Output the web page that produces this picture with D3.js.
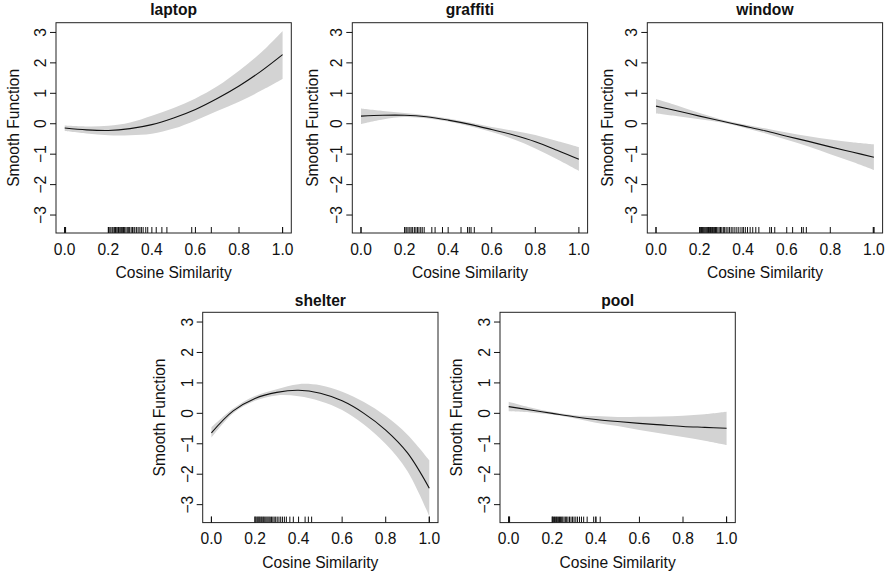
<!DOCTYPE html>
<html>
<head>
<meta charset="utf-8">
<script src="https://cdn.jsdelivr.net/npm/d3@7"></script>
<style>
  body { margin: 0; background: #fff; }
  svg text { font-family: "Liberation Sans", Arial, Helvetica, sans-serif; fill: #111; }
</style>
</head>
<body>
<div id="chart"></div>
<script>
const xGrid = [0, 0.1, 0.2, 0.3, 0.4, 0.5, 0.6, 0.7, 0.8, 0.9, 1.0];
const xTicks = [0, 0.2, 0.4, 0.6, 0.8, 1.0];
const yTicks = [-3, -2, -1, 0, 1, 2, 3];

const laptopFit = [-0.14, -0.2, -0.22, -0.16, -0.03, 0.19, 0.47, 0.83, 1.24, 1.72, 2.27];
const laptopLo  = [-0.24, -0.32, -0.38, -0.38, -0.33, -0.16, 0.11, 0.42, 0.72, 1.08, 1.47];
const laptopHi  = [-0.06, -0.09, -0.07, 0.04, 0.26, 0.52, 0.83, 1.23, 1.74, 2.33, 3.05];
const laptopRug = [0, 0.002, 0.004, 0.201, 0.207, 0.212, 0.218, 0.222, 0.228, 0.233, 0.236, 0.241,
  0.247, 0.25, 0.255, 0.26, 0.266, 0.27, 0.275, 0.281, 0.287, 0.292, 0.298, 0.305, 0.311, 0.318,
  0.322, 0.33, 0.337, 0.345, 0.352, 0.36, 0.372, 0.381, 0.42, 0.446, 0.469, 0.583, 0.673, 1.0];

const graffitiFit = [0.25, 0.28, 0.28, 0.23, 0.12, -0.02, -0.19, -0.37, -0.59, -0.87, -1.17];
const graffitiLo  = [-0.01, 0.14, 0.22, 0.18, 0.07, -0.08, -0.27, -0.51, -0.81, -1.17, -1.55];
const graffitiHi  = [0.5, 0.42, 0.35, 0.28, 0.17, 0.04, -0.11, -0.23, -0.37, -0.57, -0.77];
const graffitiRug = [0, 0.202, 0.21, 0.216, 0.224, 0.23, 0.237, 0.245, 0.252, 0.259, 0.266,
  0.274, 0.281, 0.29, 0.325, 0.34, 0.374, 0.459, 0.489, 0.497, 0.505, 0.52];

const windowFit = [0.58, 0.42, 0.25, 0.09, -0.07, -0.23, -0.41, -0.58, -0.76, -0.93, -1.1];
const windowLo  = [0.34, 0.25, 0.15, 0.04, -0.12, -0.31, -0.53, -0.75, -1.0, -1.25, -1.52];
const windowHi  = [0.81, 0.59, 0.35, 0.14, -0.02, -0.15, -0.29, -0.41, -0.52, -0.61, -0.68];
const windowRug = [0, 0.201, 0.205, 0.209, 0.213, 0.217, 0.221, 0.225, 0.229, 0.233, 0.237, 0.241,
  0.245, 0.25, 0.254, 0.259, 0.263, 0.268, 0.273, 0.278, 0.284, 0.29, 0.296, 0.302, 0.309, 0.315,
  0.322, 0.33, 0.337, 0.345, 0.353, 0.362, 0.371, 0.38, 0.39, 0.4, 0.41, 0.42, 0.432, 0.444, 0.458,
  0.472, 0.522, 0.53, 0.545, 0.627, 0.668, 0.676, 0.69, 0.997, 1.0];

const shelterFit = [-0.64, 0.08, 0.49, 0.69, 0.76, 0.66, 0.41, 0.0, -0.55, -1.3, -2.46];
const shelterLo  = [-0.8, 0.0, 0.41, 0.59, 0.56, 0.4, 0.11, -0.37, -1.01, -1.9, -3.38];
const shelterHi  = [-0.46, 0.16, 0.57, 0.79, 0.96, 0.92, 0.71, 0.37, -0.09, -0.7, -1.54];
const shelterRug = [0, 0.2, 0.205, 0.21, 0.214, 0.218, 0.222, 0.227, 0.231, 0.236, 0.24, 0.245,
  0.25, 0.255, 0.26, 0.265, 0.27, 0.276, 0.282, 0.288, 0.295, 0.302, 0.31, 0.318, 0.326, 0.335,
  0.344, 0.36, 0.376, 0.43, 0.445, 0.46, 1.0];

const poolFit = [0.22, 0.11, 0.0, -0.11, -0.2, -0.27, -0.33, -0.38, -0.43, -0.46, -0.49];
const poolLo  = [0.07, 0.03, -0.04, -0.16, -0.31, -0.42, -0.55, -0.66, -0.78, -0.9, -1.04];
const poolHi  = [0.38, 0.19, 0.04, -0.06, -0.09, -0.12, -0.11, -0.1, -0.08, -0.03, 0.05];
const poolRug = [0, 0.002, 0.004, 0.2, 0.205, 0.21, 0.214, 0.219, 0.223, 0.228, 0.233, 0.238,
  0.243, 0.248, 0.254, 0.26, 0.266, 0.272, 0.279, 0.286, 0.293, 0.3, 0.308, 0.316, 0.325, 0.334,
  0.344, 0.36, 0.39, 0.4, 0.42, 1.0];

const panels = [
  { title: "laptop",   fit: laptopFit,   lo: laptopLo,   hi: laptopHi,   rug: laptopRug,   left: 56,    top: 22.7,  titleY: 14.5, ylabOff: 42.5 },
  { title: "graffiti", fit: graffitiFit, lo: graffitiLo, hi: graffitiHi, rug: graffitiRug, left: 352.3, top: 22.7,  titleY: 14.5, ylabOff: 39.5 },
  { title: "window",   fit: windowFit,   lo: windowLo,   hi: windowHi,   rug: windowRug,   left: 647.3, top: 22.7,  titleY: 14.5, ylabOff: 39.5 },
  { title: "shelter",  fit: shelterFit,  lo: shelterLo,  hi: shelterHi,  rug: shelterRug,  left: 202.7, top: 312.3, titleY: 306,  ylabOff: 43 },
  { title: "pool",     fit: poolFit,     lo: poolLo,     hi: poolHi,     rug: poolRug,     left: 500,   top: 312.3, titleY: 306,  ylabOff: 43.5 }
];

const W = 889, H = 574;
const boxW = 235.3, boxH = 210.3;
const fontSize = 15.6;

const svg = d3.select("#chart").append("svg")
  .attr("width", W)
  .attr("height", H);

const drawPanel = (p) => {
  const x = d3.scaleLinear().domain([-0.04, 1.04]).range([p.left, p.left + boxW]);
  const y = d3.scaleLinear().domain([-3.59, 3.32]).range([p.top + boxH, p.top]);
  const g = svg.append("g");

  const pts = xGrid.map((v, i) => ({ x: v, fit: p.fit[i], lo: p.lo[i], hi: p.hi[i] }));

  // confidence band
  g.append("path")
    .datum(pts)
    .attr("fill", "#d3d3d3")
    .attr("d", d3.area()
      .curve(d3.curveCatmullRom)
      .x(d => x(d.x))
      .y0(d => y(d.lo))
      .y1(d => y(d.hi)));

  // fitted smooth
  g.append("path")
    .datum(pts)
    .attr("fill", "none")
    .attr("stroke", "#111")
    .attr("stroke-width", 1.1)
    .attr("d", d3.line()
      .curve(d3.curveCatmullRom)
      .x(d => x(d.x))
      .y(d => y(d.fit)));

  // rug
  const bottom = p.top + boxH;
  g.selectAll("line.rug")
    .data(p.rug)
    .enter()
    .append("line")
    .attr("class", "rug")
    .attr("x1", d => x(d)).attr("x2", d => x(d))
    .attr("y1", bottom).attr("y2", bottom - 6)
    .attr("stroke", "#111")
    .attr("stroke-width", 1);

  // box
  g.append("rect")
    .attr("x", p.left).attr("y", p.top)
    .attr("width", boxW).attr("height", boxH)
    .attr("fill", "none")
    .attr("stroke", "#222")
    .attr("stroke-width", 1);

  // x axis: ticks point up from the bottom of the box
  g.selectAll("line.xtick")
    .data(xTicks)
    .enter()
    .append("line")
    .attr("x1", d => x(d)).attr("x2", d => x(d))
    .attr("y1", bottom).attr("y2", bottom - 6)
    .attr("stroke", "#111");

  g.selectAll("text.xlab")
    .data(xTicks)
    .enter()
    .append("text")
    .attr("x", d => x(d))
    .attr("y", bottom + 21.5)
    .attr("text-anchor", "middle")
    .attr("font-size", fontSize)
    .text(d3.format(".1f"));

  // y axis: ticks point out to the left
  g.selectAll("line.ytick")
    .data(yTicks)
    .enter()
    .append("line")
    .attr("x1", p.left).attr("x2", p.left - 6)
    .attr("y1", d => y(d)).attr("y2", d => y(d))
    .attr("stroke", "#111");

  g.selectAll("text.ylab")
    .data(yTicks)
    .enter()
    .append("text")
    .attr("transform", d => `translate(${p.left - 10.2},${y(d)}) rotate(-90)`)
    .attr("text-anchor", "middle")
    .attr("font-size", fontSize)
    .text(d3.format("d"));

  // labels
  g.append("text")
    .attr("x", p.left + boxW / 2)
    .attr("y", bottom + 45)
    .attr("text-anchor", "middle")
    .attr("font-size", fontSize)
    .text("Cosine Similarity");

  g.append("text")
    .attr("transform", `translate(${p.left - p.ylabOff + 5.6},${p.top + boxH / 2}) rotate(-90)`)
    .attr("text-anchor", "middle")
    .attr("font-size", fontSize)
    .text("Smooth Function");

  g.append("text")
    .attr("x", p.left + boxW / 2)
    .attr("y", p.titleY)
    .attr("text-anchor", "middle")
    .attr("font-size", fontSize)
    .attr("font-weight", "bold")
    .text(p.title);
};

panels.forEach(drawPanel);
</script>
</body>
</html>
